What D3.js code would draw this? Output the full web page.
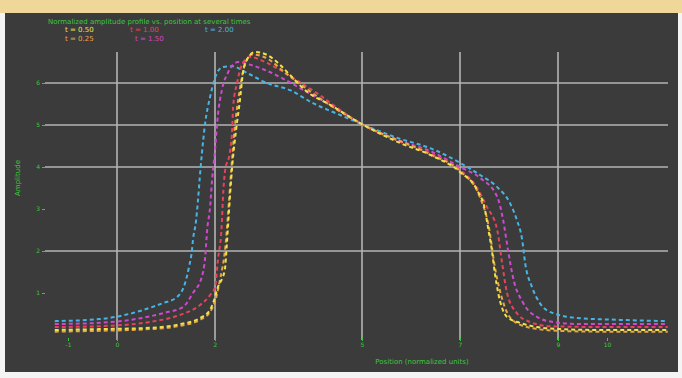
<!DOCTYPE html>
<html><head><meta charset="utf-8">
<script src="https://cdn.jsdelivr.net/npm/d3@7"></script>
<style>html,body{margin:0;padding:0;background:#fff;}svg{display:block;}</style>
</head><body>
<svg id="c" width="682" height="378"></svg>
<script>
// ---- data (x in normalized units, y in amplitude units) ----
const seriesNames = ["t = 0.50", "t = 1.00", "t = 2.00", "t = 0.25", "t = 1.50"];
const seriesColors = ["#f2e24a", "#e8425a", "#47b4e6", "#e8a648", "#d048d0"];

const yellowX = [-1.27,-0.35,0.67,1.29,1.69,1.90,1.96,2.06,2.20,2.24,2.27,2.31,2.35,2.43,2.51,2.57,2.65,2.82,3.06,3.33,3.53,3.88,4.35,5.00,5.78,6.39,7.00,7.35,7.51,7.57,7.65,7.71,7.78,7.96,8.22,8.57,9.04,9.86,11.24];
const yellowY = [0.12,0.14,0.17,0.26,0.40,0.60,0.76,1.14,1.55,2.14,2.67,3.38,4.00,4.88,5.60,6.24,6.55,6.74,6.67,6.43,6.19,5.79,5.48,5.02,4.57,4.29,3.88,3.45,2.98,2.57,2.02,1.48,1.00,0.43,0.29,0.19,0.14,0.12,0.12];

const redX = [-1.27,-0.35,0.67,1.29,1.69,1.90,2.00,2.06,2.14,2.16,2.20,2.31,2.35,2.37,2.45,2.55,2.71,3.02,3.33,3.73,4.14,4.55,5.00,5.78,6.39,7.00,7.31,7.55,7.76,7.86,7.96,8.16,8.43,8.84,9.86,11.24];
const redY = [0.19,0.21,0.31,0.48,0.71,0.95,1.14,1.79,2.67,3.21,3.86,4.40,4.88,5.43,6.00,6.43,6.62,6.50,6.31,6.02,5.71,5.36,5.02,4.60,4.33,3.93,3.57,3.05,2.50,1.71,1.00,0.52,0.31,0.21,0.19,0.19];

const blueX = [-1.27,-0.35,0.73,0.94,1.22,1.39,1.47,1.53,1.55,1.61,1.65,1.69,1.73,1.80,1.90,2.04,2.16,2.35,2.65,3.06,3.53,4.00,4.55,5.00,5.78,6.39,7.00,7.41,7.76,8.02,8.16,8.27,8.33,8.47,8.63,8.90,9.45,10.27,11.24];
const blueY = [0.33,0.38,0.67,0.76,0.90,1.24,1.62,2.02,2.26,2.69,3.17,3.76,4.29,5.05,5.67,6.24,6.38,6.40,6.24,6.00,5.83,5.52,5.24,5.02,4.67,4.45,4.10,3.81,3.52,3.14,2.74,2.26,1.71,1.14,0.76,0.52,0.40,0.36,0.33];

const orangeX = [-1.27,-0.35,0.67,1.29,1.69,1.90,2.00,2.10,2.22,2.28,2.33,2.40,2.50,2.60,2.75,3.00,3.50,4.35,5.00,6.39,7.00,7.40,7.60,7.70,7.85,8.05,8.40,9.00,9.86,11.24];
const orangeY = [0.08,0.10,0.14,0.22,0.36,0.55,0.80,1.30,2.20,3.10,3.90,4.90,5.80,6.40,6.68,6.62,6.18,5.47,5.02,4.30,3.90,3.30,2.50,1.70,0.90,0.38,0.18,0.10,0.08,0.08];

const magentaX = [-1.27,-0.35,0.94,1.35,1.55,1.73,1.80,1.84,1.90,1.94,2.00,2.06,2.14,2.27,2.47,2.67,3.02,3.33,3.73,4.35,5.00,5.78,6.39,7.00,7.41,7.76,7.88,7.98,8.08,8.29,8.57,8.90,9.45,11.24];
const magentaY = [0.26,0.29,0.52,0.67,1.00,1.38,1.86,2.50,3.05,3.69,4.40,5.24,5.83,6.26,6.50,6.45,6.31,6.14,5.88,5.48,5.02,4.62,4.38,4.00,3.74,3.29,2.74,2.02,1.38,0.76,0.43,0.31,0.26,0.26];

const xGridVals = [0, 2, 5, 7, 9];
const yGridVals = [2, 4, 5, 6];
const xTickVals = [-1, 0, 2, 5, 7, 9, 10];
const xTickLabels = ["-1", "0", "2", "5", "7", "9", "10"];
const yTickVals = [1, 2, 3, 4, 5, 6];
const yTickLabels = ["1", "2", "3", "4", "5", "6"];
const legendTitle = "Normalized amplitude profile vs. position at several times";
const xTitle = "Position (normalized units)";
const yTitle = "Amplitude";

// ---- drawing ----
const svg = d3.select("#c");
const x = d3.scaleLinear().domain([0, 9]).range([117, 558]);
const y = d3.scaleLinear().domain([0, 6]).range([335, 83]);
const green = "#3cc83c";

svg.append("rect").attr("x",0).attr("y",0).attr("width",682).attr("height",378).attr("fill","#f4f4f4");
svg.append("rect").attr("x",0).attr("y",0).attr("width",682).attr("height",13).attr("fill","#efd79a");
svg.append("rect").attr("x",5).attr("y",13).attr("width",673).attr("height",359).attr("fill","#3b3b3b");

// grid
svg.append("g").selectAll("line").data(yGridVals).join("line")
  .attr("x1",45).attr("x2",668).attr("y1",d=>y(d)).attr("y2",d=>y(d))
  .attr("stroke","#b4b4b4").attr("stroke-width",1.6);
svg.append("g").selectAll("line").data(xGridVals).join("line")
  .attr("x1",d=>x(d)).attr("x2",d=>x(d)).attr("y1",52).attr("y2",340)
  .attr("stroke","#b4b4b4").attr("stroke-width",1.6);

// axes via d3 axis (green ticks/labels, no domain)
const xAxis = d3.axisBottom(x).tickValues(xTickVals).tickFormat((d,i)=>xTickLabels[i]).tickSize(3).tickPadding(2);
const gx = svg.append("g").attr("transform","translate(0,338)").call(xAxis);
gx.select(".domain").remove();
gx.selectAll("line").attr("stroke",green);
gx.selectAll("text").attr("fill",green).attr("font-size",6).attr("font-family","DejaVu Sans");

const yAxis = d3.axisLeft(y).tickValues(yTickVals).tickFormat((d,i)=>yTickLabels[i]).tickSize(3).tickPadding(2);
const gy = svg.append("g").attr("transform","translate(45,0)").call(yAxis);
gy.select(".domain").remove();
gy.selectAll("line").attr("stroke",green);
gy.selectAll("text").attr("fill",green).attr("font-size",6).attr("font-family","DejaVu Sans");

svg.append("text").attr("x",422).attr("y",364).attr("text-anchor","middle")
  .attr("fill",green).attr("font-size",7).attr("font-family","DejaVu Sans").text(xTitle);
svg.append("text").attr("transform","translate(20,178) rotate(-90)").attr("text-anchor","middle")
  .attr("fill",green).attr("font-size",7).attr("font-family","DejaVu Sans").text(yTitle);

// series
const allSeries = [
  {xs: blueX, ys: blueY, c: seriesColors[2]},
  {xs: magentaX, ys: magentaY, c: seriesColors[4]},
  {xs: redX, ys: redY, c: seriesColors[1]},
  {xs: orangeX, ys: orangeY, c: seriesColors[3]},
  {xs: yellowX, ys: yellowY, c: seriesColors[0]}
];
const line = d3.line().x(d=>x(d[0])).y(d=>y(d[1])).curve(d3.curveMonotoneX);
svg.append("g").selectAll("path").data(allSeries).join("path")
  .attr("d", s => line(s.xs.map((v,i)=>[v, s.ys[i]])))
  .attr("fill","none").attr("stroke",s=>s.c).attr("stroke-width",2)
  .attr("stroke-dasharray","4,3");

// legend
svg.append("text").attr("x",48).attr("y",24).attr("fill",green).attr("font-size",7)
  .attr("font-family","DejaVu Sans").text(legendTitle);
const legPos = [[65,32],[130,32],[205,32],[65,41],[135,41]];
svg.append("g").selectAll("text").data(seriesNames).join("text")
  .attr("x",(d,i)=>legPos[i][0]).attr("y",(d,i)=>legPos[i][1])
  .attr("fill",(d,i)=>seriesColors[i]).attr("font-size",7).attr("font-family","DejaVu Sans")
  .text(d=>d);
</script>
</body></html>
